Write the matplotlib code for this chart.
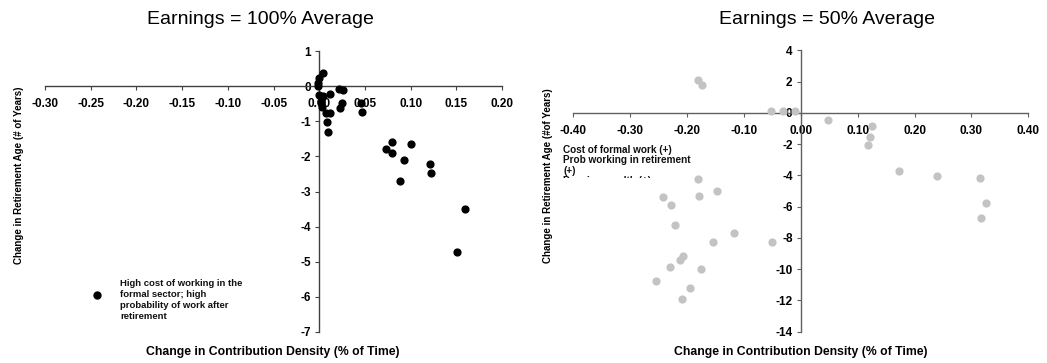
import matplotlib
matplotlib.use("Agg")
import matplotlib.pyplot as plt
from matplotlib.patches import Rectangle
from matplotlib.lines import Line2D

plt.rcParams['font.family'] = ['Liberation Sans', 'DejaVu Sans']

# ---- data ----
left_title = "Earnings = 100% Average"
right_title = "Earnings = 50% Average"
x_label = "Change in Contribution Density (% of Time)"
left_ylabel = "Change in Retirement Age (# of Years)"
right_ylabel = "Change in Retirement Age (#of Years)"

left_x = [0.000, 0.004, -0.001, -0.001, 0.000, 0.004, 0.003, 0.002, 0.012, 0.022, 0.026,
          0.025, 0.023, 0.046, 0.047, 0.007, 0.012, 0.008, 0.009, 0.073, 0.079, 0.080,
          0.100, 0.093, 0.121, 0.122, 0.088, 0.159, 0.151]
left_y = [0.23, 0.37, 0.10, 0.00, -0.26, -0.28, -0.60, -0.45, -0.23, -0.09, -0.10,
          -0.47, -0.63, -0.47, -0.73, -0.77, -0.77, -1.02, -1.30, -1.80, -1.90, -1.59,
          -1.64, -2.09, -2.23, -2.47, -2.69, -3.49, -4.73]

right_x = [-0.180, -0.173, -0.053, -0.031, -0.011, 0.048, 0.125, 0.122, 0.118, 0.173,
           0.240, 0.315, -0.180, -0.242, -0.228, -0.179, -0.148, -0.221, -0.117, -0.154,
           -0.050, -0.207, -0.213, -0.230, -0.175, -0.254, -0.195, -0.209, 0.326, 0.316]
right_y = [2.13, 1.79, 0.15, 0.10, 0.15, -0.43, -0.86, -1.54, -2.05, -3.70,
           -4.06, -4.17, -4.21, -5.38, -5.92, -5.34, -4.98, -7.16, -7.65, -8.27,
           -8.27, -9.13, -9.40, -9.87, -9.98, -10.77, -11.18, -11.88, -5.77, -6.69]

left_xticks = [-0.30, -0.25, -0.20, -0.15, -0.10, -0.05, 0.00, 0.05, 0.10, 0.15, 0.20]
left_yticks = [1, 0, -1, -2, -3, -4, -5, -6, -7]
right_xticks = [-0.40, -0.30, -0.20, -0.10, 0.00, 0.10, 0.20, 0.30, 0.40]
right_yticks = [4, 2, 0, -2, -4, -6, -8, -10, -12, -14]

left_legend = "\nHigh cost of working in the\nformal sector; high\nprobability of work after\nretirement"
right_legend = "Cost of formal work (+)\nProb working in retirement\n(+)\nPension wealth (+)"

fig = plt.figure(figsize=(10.47, 3.63), dpi=100)
axL = fig.add_axes([0.043, 0.0854, 0.4366, 0.7741])
axR = fig.add_axes([0.5476, 0.0862, 0.4346, 0.7747])


def style(ax, xt, yt, spine_col):
    for s in ['top', 'right']:
        ax.spines[s].set_visible(False)
    ax.spines['left'].set_position(('data', 0))
    ax.spines['bottom'].set_position(('data', 0))
    for s in ['left', 'bottom']:
        ax.spines[s].set_color(spine_col)
        ax.spines[s].set_linewidth(1.0)
    ax.set_xticks(xt)
    ax.set_yticks(yt)
    ax.set_xticklabels([f"{v:.2f}" for v in xt], fontweight='bold', fontsize=8.5)
    ax.set_yticklabels([f"{v:d}" for v in yt], fontweight='bold', fontsize=8.5)
    ax.tick_params(axis='x', direction='out', length=3, pad=5.5, color=spine_col)
    ax.tick_params(axis='y', direction='out', length=3, pad=3, color=spine_col)
    ax.patch.set_visible(False)


axL.scatter(left_x, left_y, s=24, color='black', zorder=3, clip_on=False)
axL.set_xlim(-0.30, 0.20)
axL.set_ylim(-7, 1)
style(axL, left_xticks, left_yticks, '#404040')

axR.scatter(right_x, right_y, s=24, color='#c3c3c3', zorder=3, clip_on=False)
axR.set_xlim(-0.40, 0.40)
axR.set_ylim(-14, 4)
style(axR, right_xticks, right_yticks, '#606060')

# titles
fig.text(260 / 1047, 1 - 19 / 363, left_title, ha='center', va='center', fontsize=14)
fig.text(827 / 1047, 1 - 19 / 363, right_title, ha='center', va='center', fontsize=14)

# axis labels
fig.text(273 / 1047, 1 - 352 / 363, x_label, ha='center', va='center', fontsize=8.8, fontweight='bold')
fig.text(801 / 1047, 1 - 352 / 363, x_label, ha='center', va='center', fontsize=8.8, fontweight='bold')
fig.text(19 / 1047, 1 - 175 / 363, left_ylabel, ha='center', va='center', rotation=90,
         fontsize=7, fontweight='bold')
fig.text(548 / 1047, 1 - 176 / 363, right_ylabel, ha='center', va='center', rotation=90,
         fontsize=7, fontweight='bold')

# left legend
handle = Line2D([], [], linestyle='none', marker='o', markersize=5, color='black')
leg = axL.legend([handle], [left_legend], frameon=False, loc='upper left',
                 bbox_to_anchor=(85 / 1047, 1 - 261 / 363), bbox_transform=fig.transFigure,
                 prop={'size': 6.8, 'weight': 'bold'}, handletextpad=1.8, handlelength=1.2,
                 borderpad=0.2)
for txt in leg.get_texts():
    txt.set_linespacing(1.3)
    txt.set_color('#111111')

# right legend (text clipped like the original)
t = fig.text(563 / 1047, 1 - 145 / 363, right_legend, ha='left', va='top', fontsize=7.2,
             fontweight='bold', linespacing=1.05, color='#111111')
clip = Rectangle((555, 363 - 178), 250, 45, transform=None)
t.set_clip_path(clip)

fig.savefig('out.png', dpi=100)
